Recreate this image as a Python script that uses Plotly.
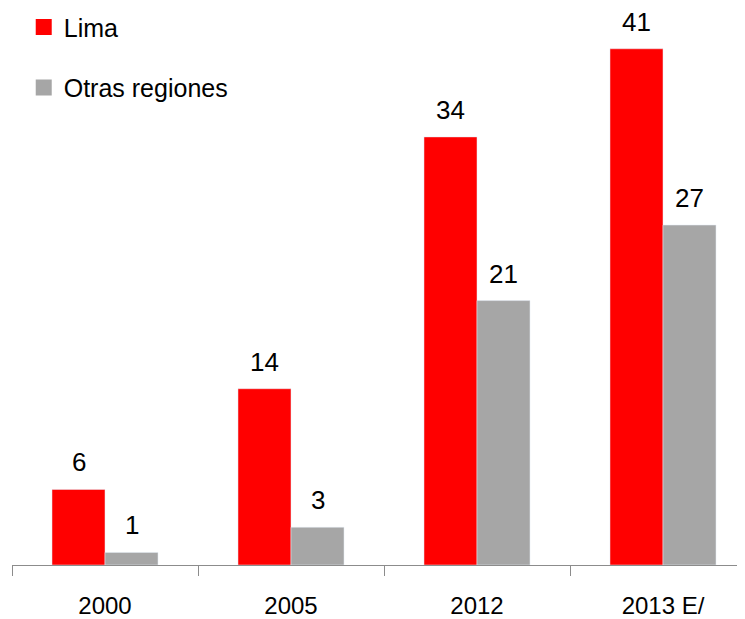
import plotly.graph_objects as go

# data
years = ["2000", "2005", "2012", "2013 E/"]
lima = [6, 14, 34, 41]
otras = [1, 3, 21, 27]

RED = "#FF0000"
GREY = "#A6A6A6"
FONT = "Liberation Sans, Arial, sans-serif"

fig = go.Figure()
fig.add_trace(go.Bar(x=years, y=lima, name="Lima", marker_color=RED,
                     showlegend=False))
fig.add_trace(go.Bar(x=years, y=otras, name="Otras regiones", marker_color=GREY,
                     showlegend=False))

# legend entries with bigger square symbols
fig.add_trace(go.Scatter(x=[None], y=[None], mode="markers", name="Lima",
                         legendgroup="a",
                         marker=dict(symbol="square", size=18, color=RED)))
fig.add_trace(go.Scatter(x=[None], y=[None], mode="markers", name="Otras regiones",
                         legendgroup="b",
                         marker=dict(symbol="square", size=18, color=GREY)))

# value labels above the bars
w = 0.285
annots = []
for i in range(len(years)):
    annots.append(dict(x=i - w / 2, y=lima[i], text=str(lima[i]), showarrow=False,
                       xref="x", yref="y", yanchor="bottom", yshift=10,
                       font=dict(size=26, color="#000")))
    annots.append(dict(x=i + w / 2, y=otras[i], text=str(otras[i]), showarrow=False,
                       xref="x", yref="y", yanchor="bottom", yshift=10,
                       font=dict(size=26, color="#000")))

# the page adds an 8px body margin, so margins are set 8px smaller top/left
fig.update_layout(
    width=745, height=619,
    margin=dict(l=4, r=8, t=3, b=62, autoexpand=False),
    paper_bgcolor="white", plot_bgcolor="white",
    font=dict(family=FONT, size=26, color="#000"),
    barmode="group", bargap=0.43, bargroupgap=0,
    annotations=annots,
    legend=dict(x=0.016, y=1.012, xanchor="left", yanchor="top",
                font=dict(size=25), traceorder="grouped", tracegroupgap=25,
                bgcolor="rgba(0,0,0,0)"),
    xaxis=dict(type="category", range=[-0.5, -0.5 + 733 / 186], automargin=False,
               showline=True, linecolor="#8C8C8C", linewidth=1,
               ticks="outside", tickson="boundaries", ticklen=10,
               tickcolor="#8C8C8C", ticklabelstandoff=19,
               showgrid=False, tickfont=dict(size=24)),
    yaxis=dict(range=[0, 44], visible=False, showgrid=False, zeroline=False,
               automargin=False),
)

fig.write_html("out.html")
